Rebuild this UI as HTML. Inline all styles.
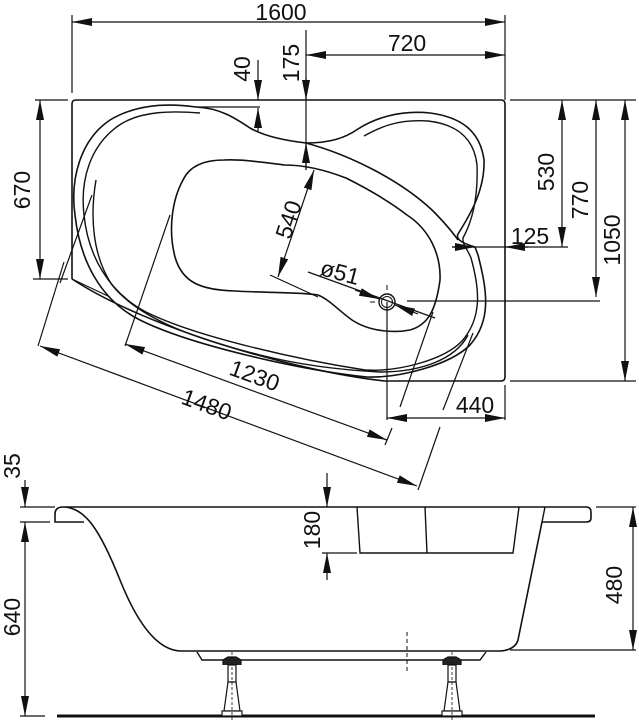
<!DOCTYPE html>
<html><head><meta charset="utf-8"><style>
html,body{margin:0;padding:0;background:#fff}
svg{display:block}
text{font-family:"Liberation Sans",Arial,sans-serif;font-size:23px;fill:#111}
</style></head><body>
<svg width="639" height="723" viewBox="0 0 639 723" xmlns="http://www.w3.org/2000/svg">
<defs>
<marker id="a" viewBox="0 0 20 8" refX="20" refY="4" markerWidth="20" markerHeight="8" markerUnits="userSpaceOnUse" orient="auto-start-reverse">
<path d="M0,0 L20,4 L0,8 z" fill="#111"/></marker>
</defs>
<g stroke="#111" fill="none" stroke-width="1.2">
<!-- top view extension lines -->
<line x1="72" y1="15" x2="72" y2="93"/>
<line x1="505" y1="15" x2="505" y2="100"/>
<line x1="306" y1="30" x2="306" y2="170"/>
<line x1="35" y1="100" x2="68" y2="100"/>
<line x1="33" y1="279" x2="68" y2="279"/>
<line x1="510" y1="100" x2="636" y2="100"/>
<line x1="510" y1="381" x2="636" y2="381"/>
<line x1="452" y1="247" x2="568" y2="247"/>
<line x1="407" y1="301" x2="600" y2="301"/>
<line x1="196" y1="107" x2="260" y2="107"/>
<line x1="387" y1="302" x2="387" y2="420"/>
<line x1="505" y1="385" x2="505" y2="420"/>
<line x1="433" y1="312" x2="400" y2="407"/>
<line x1="392" y1="428" x2="385" y2="445"/>
<line x1="473" y1="333" x2="443" y2="410"/>
<line x1="440" y1="427" x2="418" y2="490"/>
<line x1="92" y1="195" x2="60" y2="283"/>
<line x1="64" y1="262" x2="38" y2="346"/>
<line x1="170" y1="215" x2="125" y2="346"/>
<line x1="72" y1="279" x2="110" y2="297"/>
<line x1="270" y1="275" x2="318" y2="297"/>
<!-- dimension lines -->
<line x1="72" y1="22" x2="505" y2="22" marker-start="url(#a)" marker-end="url(#a)"/>
<line x1="306" y1="55" x2="505" y2="55" marker-start="url(#a)" marker-end="url(#a)"/>
<line x1="40" y1="100" x2="40" y2="279" marker-start="url(#a)" marker-end="url(#a)"/>
<line x1="562" y1="100" x2="562" y2="247" marker-start="url(#a)" marker-end="url(#a)"/>
<line x1="596" y1="100" x2="596" y2="297" marker-start="url(#a)" marker-end="url(#a)"/>
<line x1="625" y1="100" x2="625" y2="381" marker-start="url(#a)" marker-end="url(#a)"/>
<line x1="306" y1="78" x2="306" y2="100" marker-end="url(#a)"/>
<line x1="306" y1="170" x2="306" y2="143" marker-end="url(#a)"/>
<line x1="258" y1="60" x2="258" y2="100" marker-end="url(#a)"/>
<line x1="258" y1="132" x2="258" y2="108" marker-end="url(#a)"/>
<line x1="452" y1="247" x2="475" y2="247" marker-end="url(#a)"/>
<line x1="528" y1="247" x2="505" y2="247" marker-end="url(#a)"/>
<line x1="314" y1="170" x2="278" y2="277" marker-start="url(#a)" marker-end="url(#a)"/>
<line x1="387" y1="418" x2="505" y2="418" marker-start="url(#a)" marker-end="url(#a)"/>
<line x1="125" y1="344" x2="387" y2="440" marker-start="url(#a)" marker-end="url(#a)"/>
<line x1="40" y1="346" x2="417" y2="486" marker-start="url(#a)" marker-end="url(#a)"/>
<line x1="308" y1="272" x2="435" y2="318"/>
<line x1="355" y1="290" x2="379" y2="299" marker-end="url(#a)"/>
<line x1="418" y1="314" x2="395" y2="305" marker-end="url(#a)"/>
<!-- outer board -->
<path d="M72,279 L72,104 Q72,100 76,100 L501,100 Q505,100 505,104 L505,377 Q505,381 501,381 L385,381 C300,372 150,330 72,279" stroke-width="1.6"/>
<!-- outer bowl -->
<path d="M196,107 C175,104 140,102 110,120 C80,140 70,180 75,215 C80,260 100,300 140,320 C190,345 300,370 367,377 C400,378 450,365 470,345 C492,320 487,290 478,255 L475,247 C465,244 455,240 458,234 C470,215 485,190 484,160 C480,130 460,117 430,113 C400,110 375,118 358,129 C345,138 330,143 306,143 C280,140 262,135 250,128 C235,118 220,108 196,107 Z" stroke-width="1.6"/>
<path d="M200,113 C175,111 140,110 118,126 C90,146 80,180 84,215 C88,255 108,292 146,312 C196,337 300,360 365,370 C398,372 444,360 462,341 C482,318 480,290 471,258 C468,250 462,244 463,238 C474,218 478,192 477,165 C474,137 455,124 428,121 C398,119 380,127 364,136" stroke-width="1.4"/>
<path d="M306,143 C350,155 400,180 432,210 C450,228 455,236 458,240" stroke-width="1.6"/>
<path d="M96,180 C90,215 92,255 112,285 C140,320 200,340 260,355 C300,365 340,370 380,372 C420,372 455,360 468,335" stroke-width="1.4"/>
<!-- inner basin -->
<path d="M224,160 C205,160 190,165 183,180 C172,200 168,230 175,257 C182,282 200,290 235,291 C270,293 300,292 318,295 C330,300 338,310 352,320 C370,332 395,333 410,330 C428,325 436,310 440,280 C441,255 430,230 407,215 C385,198 360,185 346,178 C320,168 300,165 285,165 C260,162 240,159 224,160 Z" stroke-width="1.6"/>
<!-- drain -->
<circle cx="387" cy="302" r="8" stroke-width="1.4"/>
<circle cx="387" cy="302" r="5.5" stroke-width="1"/>
<line x1="387" y1="285" x2="387" y2="290" stroke-width="1"/>
<line x1="370" y1="302" x2="375" y2="302" stroke-width="1"/>
<!-- bottom view -->
<line x1="20" y1="507" x2="55" y2="507"/>
<line x1="20" y1="522" x2="50" y2="522"/>
<line x1="20" y1="716" x2="45" y2="716"/>
<line x1="322" y1="553" x2="357" y2="553"/>
<line x1="596" y1="507" x2="636" y2="507"/>
<line x1="510" y1="650" x2="636" y2="650"/>
<line x1="25" y1="480" x2="25" y2="507" marker-end="url(#a)"/>
<line x1="25" y1="522" x2="25" y2="716" marker-start="url(#a)" marker-end="url(#a)"/>
<line x1="327" y1="473" x2="327" y2="507" marker-end="url(#a)"/>
<line x1="327" y1="580" x2="327" y2="553" marker-end="url(#a)"/>
<line x1="633" y1="507" x2="633" y2="650" marker-start="url(#a)" marker-end="url(#a)"/>
<path d="M63,507 L586,507 Q591,507 591,512 L591,518 Q591,522 586,522 L542,522 L518,640 Q515,650 500,651 L180,651 C160,650 140,630 120,580 C100,530 85,507 63,507 Q55,507 55,514 L55,522 L84,522" stroke-width="1.6"/>
<path d="M542,522 L545,507" stroke-width="1.4"/>
<path d="M357,507 L360,553 L513,553 L519,507 M425,507 L427,553" stroke-width="1.4"/>
<path d="M197,652 L202,660 L480,660 L486,652" stroke-width="1.4"/>
<line x1="407" y1="632" x2="407" y2="672" stroke-dasharray="4,3" stroke-width="1"/>
<line x1="57" y1="716" x2="595" y2="716" stroke-width="3"/>
</g>
<!-- legs -->
<g stroke="#111" stroke-width="1.2" fill="#fff">
<g id="leg">
<path d="M223,665 L223,660 L228,657 L236,657 L241,660 L241,665" fill="#222"/>
<rect x="228" y="665" width="8" height="17"/>
<path d="M228,682 L236,682 L240,711 L224,711 Z"/>
<rect x="222" y="711" width="20" height="5"/>
<line x1="232" y1="652" x2="232" y2="722" stroke-dasharray="3,2" stroke-width="0.8"/>
</g>
<use href="#leg" x="220"/>
</g>
<!-- labels -->
<text x="281" y="20" text-anchor="middle">1600</text>
<text x="407" y="51" text-anchor="middle">720</text>
<text x="530" y="244" text-anchor="middle">125</text>
<text x="475" y="413" text-anchor="middle">440</text>
<text transform="translate(30,190) rotate(-90)" text-anchor="middle">670</text>
<text transform="translate(299,63) rotate(-90)" text-anchor="middle">175</text>
<text transform="translate(250,69) rotate(-90)" text-anchor="middle">40</text>
<text transform="translate(554,172) rotate(-90)" text-anchor="middle">530</text>
<text transform="translate(588,200) rotate(-90)" text-anchor="middle">770</text>
<text transform="translate(620,240) rotate(-90)" text-anchor="middle">1050</text>
<text transform="translate(296,222) rotate(-72)" text-anchor="middle">540</text>
<text transform="translate(338,280) rotate(15)" text-anchor="middle">ø51</text>
<text transform="translate(252,383) rotate(20)" text-anchor="middle">1230</text>
<text transform="translate(204,412) rotate(20)" text-anchor="middle">1480</text>
<text transform="translate(20,466) rotate(-90)" text-anchor="middle">35</text>
<text transform="translate(20,617) rotate(-90)" text-anchor="middle">640</text>
<text transform="translate(320,530) rotate(-90)" text-anchor="middle">180</text>
<text transform="translate(622,585) rotate(-90)" text-anchor="middle">480</text>
</svg>
</body></html>
